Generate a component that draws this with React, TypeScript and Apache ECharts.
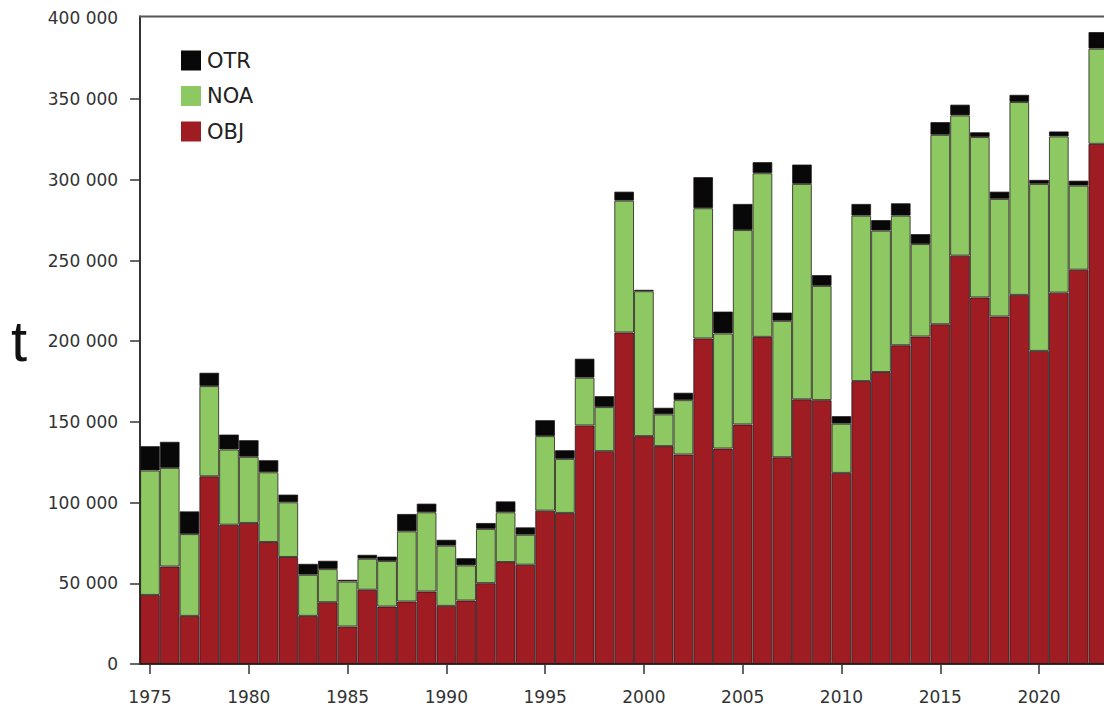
import React, { useEffect, useRef } from "react";
import * as echarts from "echarts";

const years = [
  "1975","1976","1977","1978","1979","1980","1981","1982","1983","1984",
  "1985","1986","1987","1988","1989","1990","1991","1992","1993","1994",
  "1995","1996","1997","1998","1999","2000","2001","2002","2003","2004",
  "2005","2006","2007","2008","2009","2010","2011","2012","2013","2014",
  "2015","2016","2017","2018","2019","2020","2021","2022","2023",
];

const objValues = [
  42800, 60400, 29800, 116300, 86300, 87400, 75600, 66300, 29800, 38300,
  23200, 46000, 35600, 38700, 44900, 36000, 39300, 50100, 63200, 61500,
  95000, 93600, 147800, 131900, 205400, 141200, 135000, 129800, 201700, 133500,
  148400, 202700, 128100, 164000, 163500, 118400, 175300, 180900, 197500, 202900,
  210500, 253000, 227100, 215300, 228700, 194000, 230100, 244300, 322300,
];

const noaValues = [
  77100, 61100, 50700, 55900, 46600, 41000, 43200, 33900, 25500, 20500,
  27900, 19200, 28200, 43500, 49100, 37300, 21800, 33600, 30800, 18600,
  46200, 33500, 29600, 27300, 81700, 89800, 19700, 33700, 80700, 71300,
  120500, 101400, 84500, 133500, 70800, 30500, 102500, 87600, 80300, 57300,
  117400, 86900, 99400, 72900, 119500, 103500, 96800, 52100, 59000,
];

const otrValues = [
  15100, 16200, 14100, 8300, 9300, 10300, 7500, 4800, 6800, 5200,
  1100, 2500, 2800, 10800, 5400, 3700, 4500, 3700, 6800, 4600,
  9900, 5400, 11800, 6800, 5600, 900, 4100, 4600, 19300, 13600,
  16200, 6900, 5200, 12000, 6700, 4700, 7300, 6600, 7700, 6200,
  7900, 6700, 3000, 4500, 4500, 2500, 3100, 3100, 10300,
];

const yLabelValues = [0, 50000, 100000, 150000, 200000, 250000, 300000, 350000, 400000];
const yTickValues = [0, 50000, 100000, 150000, 200000, 250000, 300000, 350000];
const legendOrder = ["OTR", "NOA", "OBJ"];

const FONT = "DejaVu Sans";
const AXIS_COLOR = "#333333";
const BORDER = "rgba(30,20,20,0.75)";

function fmt(v: number): string {
  if (v === 0) return "0";
  return `${Math.round(v / 1000)} 000`;
}

export default function App() {
  const ref = useRef<HTMLDivElement>(null);

  useEffect(() => {
    if (!ref.current) return;
    const chart = echarts.init(ref.current, undefined, { renderer: "svg" });
    const every5 = (i: number) => i % 5 === 0;
    const barSeries = (name: string, data: number[], color: string) => ({
      name,
      type: "bar",
      stack: "total",
      data,
      barCategoryGap: "0%",
      itemStyle: { color, borderColor: BORDER, borderWidth: 1 },
      emphasis: { disabled: true },
    });
    chart.setOption({
      animation: false,
      backgroundColor: "#ffffff",
      grid: {
        left: 140.1,
        right: -4.2,
        top: 16.5,
        bottom: 45,
        containLabel: false,
        outerBoundsMode: "none",
      },
      legend: {
        data: legendOrder,
        orient: "vertical",
        left: 176,
        top: 45,
        itemWidth: 20,
        itemHeight: 20,
        itemGap: 14.5,
        icon: "rect",
        itemStyle: { borderWidth: 0 },
        textStyle: {
          fontFamily: FONT,
          fontSize: 21,
          color: "#222222",
          lineHeight: 20,
          padding: [0, 0, 0, 1],
        },
      },
      xAxis: {
        type: "category",
        data: years,
        axisLine: { show: true, lineStyle: { color: AXIS_COLOR, width: 2 } },
        axisTick: {
          show: true,
          alignWithLabel: true,
          interval: every5,
          length: 10,
          lineStyle: { color: AXIS_COLOR, width: 1.5 },
        },
        axisLabel: {
          interval: every5,
          margin: 24,
          fontFamily: FONT,
          fontSize: 17,
          color: "#333333",
        },
        splitLine: { show: false },
      },
      yAxis: {
        type: "value",
        min: 0,
        max: 401200,
        interval: 50000,
        name: "t",
        nameLocation: "middle",
        nameRotate: 0,
        nameGap: 113,
        nameTextStyle: {
          fontFamily: "Liberation Sans",
          fontSize: 58,
          color: "#111111",
          align: "right",
          verticalAlign: "middle",
        },
        axisLine: { show: true, lineStyle: { color: AXIS_COLOR, width: 2 } },
        axisTick: {
          show: true,
          length: 10,
          customValues: yTickValues,
          lineStyle: { color: AXIS_COLOR, width: 1.5 },
        },
        axisLabel: {
          customValues: yLabelValues,
          margin: 22,
          fontFamily: FONT,
          fontSize: 17,
          color: "#333333",
          formatter: (v: number) => (v % 50000 === 0 ? fmt(v) : ""),
        },
        splitLine: { show: false },
      },
      graphic: [
        {
          type: "line",
          shape: { x1: 139, y1: 16.5, x2: 1104, y2: 16.5 },
          style: { stroke: "#555555", lineWidth: 2 },
          silent: true,
          z: 100,
        },
      ],
      series: [
        barSeries("OBJ", objValues, "#A01C23"),
        barSeries("NOA", noaValues, "#8DC862"),
        barSeries("OTR", otrValues, "#080808"),
      ],
    });
    return () => chart.dispose();
  }, []);

  return (
    <div
      ref={ref}
      style={{ position: "absolute", left: 0, top: 0, width: 1104, height: 709, background: "#fff" }}
    />
  );
}
